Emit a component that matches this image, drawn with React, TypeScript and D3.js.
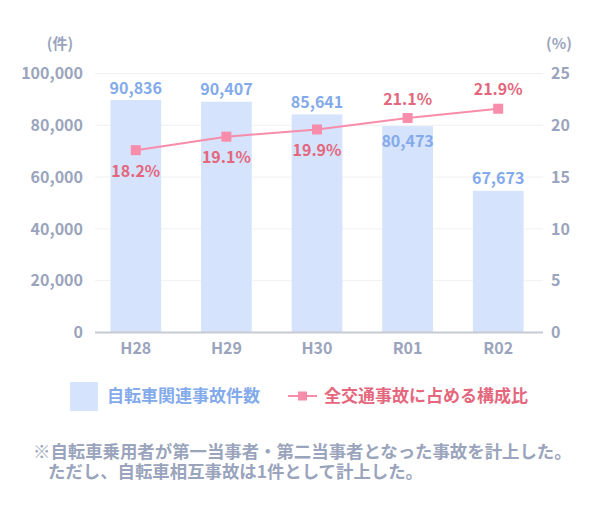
import React from "react";
import * as d3 from "d3";

const categories = ["H28", "H29", "H30", "R01", "R02"];
// bar heights as drawn in the reference
const barValues = [89800, 89100, 84200, 79700, 54700];
const barLabels = ["90,836", "90,407", "85,641", "80,473", "67,673"];
const barLabelPlace = ["above", "above", "above", "inside", "above"];
// line points as drawn in the reference
const rateValues = [17.6, 18.9, 19.6, 20.7, 21.6];
const rateLabels = ["18.2%", "19.1%", "19.9%", "21.1%", "21.9%"];
const rateLabelPlace = ["below", "below", "below", "above", "above"];
const leftTicks = [0, 20000, 40000, 60000, 80000, 100000];
const rightTicks = [0, 5, 10, 15, 20, 25];
const legendBar = "自転車関連事故件数";
const legendLine = "全交通事故に占める構成比";
const note1 = "※自転車乗用者が第一当事者・第二当事者となった事故を計上した。";
const note2 = "ただし、自転車相互事故は1件として計上した。";

const W = 610, H = 518;
const FONT = "'Noto Sans CJK JP', 'Noto Sans', sans-serif";
const AXIS_C = "#9aa4bc";
const BAR_C = "#d5e3fc";
const BAR_TXT = "#83aaea";
const LINE_C = "#f78daa";
const RATE_TXT = "#e4677d";

export default function App() {
  const x = d3.scaleBand<string>().domain(categories).range([90.5, 543.5]).paddingInner(0.44).paddingOuter(0.22);
  const yL = d3.scaleLinear().domain([0, 100000]).range([332.5, 73.5]);
  const yR = d3.scaleLinear().domain([0, 25]).range([332.5, 73.5]);
  const fmt = d3.format(",");
  const cx = (c: string) => (x(c) as number) + x.bandwidth() / 2;
  const line = d3.line<number>().x((_, i) => cx(categories[i])).y((d) => yR(d));
  const gx0 = 95, gx1 = 543;

  return (
    <svg width={W} height={H} style={{ position: "absolute", left: 0, top: 0, fontFamily: FONT }}>
      <rect width={W} height={H} fill="#fff" />
      {leftTicks.map((t) => (
        <g key={"g" + t}>
          {t > 0 && <line x1={gx0} x2={gx1} y1={yL(t)} y2={yL(t)} stroke="#f1f1f3" strokeWidth={1} />}
          <text x={83} y={yL(t)} dy="0.35em" textAnchor="end" fontSize={16} fontWeight={700} fill={AXIS_C}>{fmt(t)}</text>
        </g>
      ))}
      {rightTicks.map((t) => (
        <text key={"r" + t} x={551} y={yR(t)} dy="0.35em" textAnchor="start" fontSize={16} fontWeight={700} fill={AXIS_C}>{t}</text>
      ))}
      <text x={60} y={44} dy="0.35em" textAnchor="middle" fontSize={15} fontWeight={700} fill={AXIS_C}>(件)</text>
      <text x={559} y={44} dy="0.35em" textAnchor="middle" fontSize={15} fontWeight={700} fill={AXIS_C}>(%)</text>

      {categories.map((c, i) => (
        <rect key={"b" + c} x={x(c)} y={yL(barValues[i])} width={x.bandwidth()} height={yL(0) - yL(barValues[i])} fill={BAR_C} />
      ))}
      <line x1={gx0} x2={gx1} y1={yL(0)} y2={yL(0)} stroke="#c6cad3" strokeWidth={2} />
      {categories.map((c) => (
        <text key={"x" + c} x={cx(c)} y={348} dy="0.35em" textAnchor="middle" fontSize={16} fontWeight={700} fill={AXIS_C}>{c}</text>
      ))}
      {categories.map((c, i) => (
        <text key={"bl" + c} x={cx(c)} y={yL(barValues[i]) + (barLabelPlace[i] === "inside" ? 15 : -12)} dy="0.35em"
          textAnchor="middle" fontSize={16} fontWeight={700} fill={BAR_TXT}>{barLabels[i]}</text>
      ))}

      <path d={line(rateValues) || ""} fill="none" stroke={LINE_C} strokeWidth={2} />
      {categories.map((c, i) => (
        <rect key={"m" + c} x={cx(c) - 5} y={yR(rateValues[i]) - 5} width={10} height={10} fill={LINE_C} />
      ))}
      {categories.map((c, i) => (
        <text key={"rl" + c} x={cx(c)} y={yR(rateValues[i]) + (rateLabelPlace[i] === "below" ? 21 : -19)} dy="0.35em"
          textAnchor="middle" fontSize={16} fontWeight={700} fill={RATE_TXT}>{rateLabels[i]}</text>
      ))}

      <rect x={70} y={382} width={28} height={29} fill={BAR_C} />
      <text x={107} y={396.5} dy="0.35em" fontSize={17} fontWeight={700} fill={BAR_TXT}>{legendBar}</text>
      <line x1={288} x2={317} y1={396} y2={396} stroke={LINE_C} strokeWidth={2} />
      <rect x={298} y={391.5} width={9} height={9} fill={LINE_C} />
      <text x={324} y={396.5} dy="0.35em" fontSize={17} fontWeight={700} fill={RATE_TXT}>{legendLine}</text>

      <text x={33} y={451.5} dy="0.35em" fontSize={17.4} fontWeight={700} fill={AXIS_C}>{note1}</text>
      <text x={48} y={472} dy="0.35em" fontSize={17.4} fontWeight={700} fill={AXIS_C}>{note2}</text>
    </svg>
  );
}
